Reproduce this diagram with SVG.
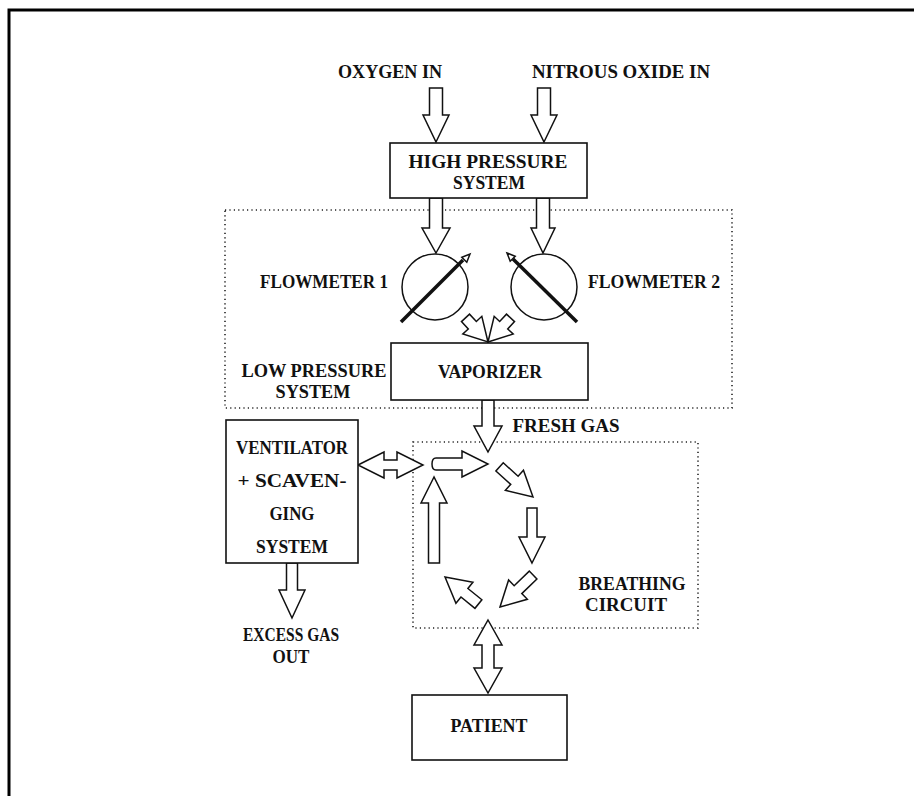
<svg xmlns="http://www.w3.org/2000/svg" width="914" height="796" viewBox="0 0 914 796">
<style>
text{font-family:"Liberation Serif","Times New Roman",serif;font-weight:bold;font-size:18px;fill:#111;text-anchor:middle}
.box{fill:#fff;stroke:#111;stroke-width:1.6}
.dot{fill:none;stroke:#222;stroke-width:1.6;stroke-dasharray:1.2 3.2}
.arr{fill:#fff;stroke:#111;stroke-width:1.5;stroke-linejoin:miter}
.needle{stroke:#111;stroke-width:3.5;stroke-linecap:butt}
.dial{fill:#fff;stroke:#111;stroke-width:1.5}
</style>
<rect width="914" height="796" fill="#fff"/>
<path d="M9,796 L9,10 L914,10" fill="none" stroke="#000" stroke-width="3"/>

<g id="regions">
  <rect class="dot" x="225" y="210" width="507" height="198"/>
  <rect class="dot" x="413" y="442" width="285" height="186"/>
</g>

<g id="labels">
  <text x="390" y="78" textLength="104" lengthAdjust="spacingAndGlyphs">OXYGEN IN</text>
  <text x="621" y="78" textLength="178" lengthAdjust="spacingAndGlyphs">NITROUS OXIDE IN</text>
  <text x="324" y="288" textLength="128" lengthAdjust="spacingAndGlyphs">FLOWMETER 1</text>
  <text x="654" y="288" textLength="132" lengthAdjust="spacingAndGlyphs">FLOWMETER 2</text>
  <text x="314" y="377" textLength="145" lengthAdjust="spacingAndGlyphs">LOW PRESSURE</text>
  <text x="313" y="398" textLength="75" lengthAdjust="spacingAndGlyphs">SYSTEM</text>
  <text x="566" y="432" textLength="107" lengthAdjust="spacingAndGlyphs">FRESH GAS</text>
  <text x="632" y="590" textLength="107" lengthAdjust="spacingAndGlyphs">BREATHING</text>
  <text x="626" y="611" textLength="82" lengthAdjust="spacingAndGlyphs">CIRCUIT</text>
  <text x="291" y="641" textLength="96" lengthAdjust="spacingAndGlyphs">EXCESS GAS</text>
  <text x="291" y="663" textLength="37" lengthAdjust="spacingAndGlyphs">OUT</text>
</g>

<g id="connectors">
  <!-- inputs -->
  <path class="arr" transform="translate(436,142) rotate(90)" d="M0,0 L-27,-13 L-27,-6.5 L-54,-6.5 L-54,6.5 L-27,6.5 L-27,13 Z"/>
  <path class="arr" transform="translate(544,142) rotate(90)" d="M0,0 L-27,-13 L-27,-6.5 L-54,-6.5 L-54,6.5 L-27,6.5 L-27,13 Z"/>
  <!-- high pressure to flowmeters -->
  <path class="arr" transform="translate(436,253) rotate(90)" d="M0,0 L-25,-14 L-25,-6.5 L-55,-6.5 L-55,6.5 L-25,6.5 L-25,14 Z"/>
  <path class="arr" transform="translate(543,253) rotate(90)" d="M0,0 L-25,-12 L-25,-6.5 L-55,-6.5 L-55,6.5 L-25,6.5 L-25,12 Z"/>
  <!-- flowmeters to vaporizer -->
  <path class="arr" transform="translate(488,342) rotate(47)" d="M0,0 L-23,-13 L-23,-5.5 L-33,-5.5 L-33,5.5 L-23,5.5 L-23,13 Z"/>
  <path class="arr" transform="translate(488,342) rotate(133)" d="M0,0 L-23,-13 L-23,-5.5 L-33,-5.5 L-33,5.5 L-23,5.5 L-23,13 Z"/>
  <!-- fresh gas -->
  <path class="arr" transform="translate(488,452) rotate(90)" d="M0,0 L-26,-14 L-26,-6 L-52,-6 L-52,6 L-26,6 L-26,14 Z"/>
  <!-- ventilator <-> circuit -->
  <path class="arr" d="M358,465 L384,452 L384,460 L397,460 L397,452 L423,465 L397,478 L397,470 L384,470 L384,478 Z"/>
  <!-- excess gas out -->
  <path class="arr" transform="translate(292,618) rotate(90)" d="M0,0 L-28,-13 L-28,-5.5 L-55,-5.5 L-55,5.5 L-28,5.5 L-28,13 Z"/>
  <!-- breathing circuit loop -->
  <path class="arr" d="M436,458 L462,458 L462,451 L488,464 L462,477 L462,470 L436,470 Q432,470 432,464 Q432,458 436,458 Z"/>
  <path class="arr" transform="translate(533,497) rotate(42)" d="M0,0 L-25,-13.5 L-25,-5.5 L-45,-5.5 L-45,5.5 L-25,5.5 L-25,13.5 Z"/>
  <path class="arr" transform="translate(532,563) rotate(90)" d="M0,0 L-26,-13 L-26,-5 L-55,-5 L-55,5 L-26,5 L-26,13 Z"/>
  <path class="arr" transform="translate(500,607) rotate(136)" d="M0,0 L-25,-13.5 L-25,-5.5 L-46,-5.5 L-46,5.5 L-25,5.5 L-25,13.5 Z"/>
  <path class="arr" transform="translate(445,577) rotate(219)" d="M0,0 L-25,-13.5 L-25,-5.5 L-43,-5.5 L-43,5.5 L-25,5.5 L-25,13.5 Z"/>
  <path class="arr" transform="translate(434,477) rotate(-90)" d="M0,0 L-26,-13 L-26,-5.5 L-86,-5.5 L-86,5.5 L-26,5.5 L-26,13 Z"/>
  <!-- circuit <-> patient -->
  <path class="arr" d="M488,620 L502,645 L494,645 L494,668 L502,668 L488,693 L474,668 L482,668 L482,645 L474,645 Z"/>
</g>

<g id="high-pressure">
  <rect class="box" x="390" y="143" width="197" height="55"/>
  <text x="488" y="168" textLength="159" lengthAdjust="spacingAndGlyphs">HIGH PRESSURE</text>
  <text x="489" y="189" textLength="72" lengthAdjust="spacingAndGlyphs">SYSTEM</text>
</g>

<g id="flowmeter-1">
  <circle class="dial" cx="435" cy="287" r="33"/>
  <line class="needle" x1="401" y1="322" x2="463" y2="260"/>
  <polygon class="arr" points="470,254 466.8,262.2 461.8,257.2"/>
</g>

<g id="flowmeter-2">
  <circle class="dial" cx="544" cy="287" r="33"/>
  <line class="needle" x1="577" y1="322" x2="513" y2="259"/>
  <polygon class="arr" points="507,253 515.2,256.2 510.2,261.2"/>
</g>

<g id="vaporizer">
  <rect class="box" x="391" y="343" width="197" height="57"/>
  <text x="490" y="378" textLength="104" lengthAdjust="spacingAndGlyphs">VAPORIZER</text>
</g>

<g id="ventilator">
  <rect class="box" x="226" y="420" width="132" height="143"/>
  <text x="292" y="454" textLength="112" lengthAdjust="spacingAndGlyphs">VENTILATOR</text>
  <text x="292" y="487" textLength="109" lengthAdjust="spacingAndGlyphs">+ SCAVEN-</text>
  <text x="292" y="520" textLength="45" lengthAdjust="spacingAndGlyphs">GING</text>
  <text x="292" y="553" textLength="72" lengthAdjust="spacingAndGlyphs">SYSTEM</text>
</g>

<g id="patient">
  <rect class="box" x="412" y="695" width="155" height="65"/>
  <text x="489" y="732" textLength="77" lengthAdjust="spacingAndGlyphs">PATIENT</text>
</g>
</svg>
